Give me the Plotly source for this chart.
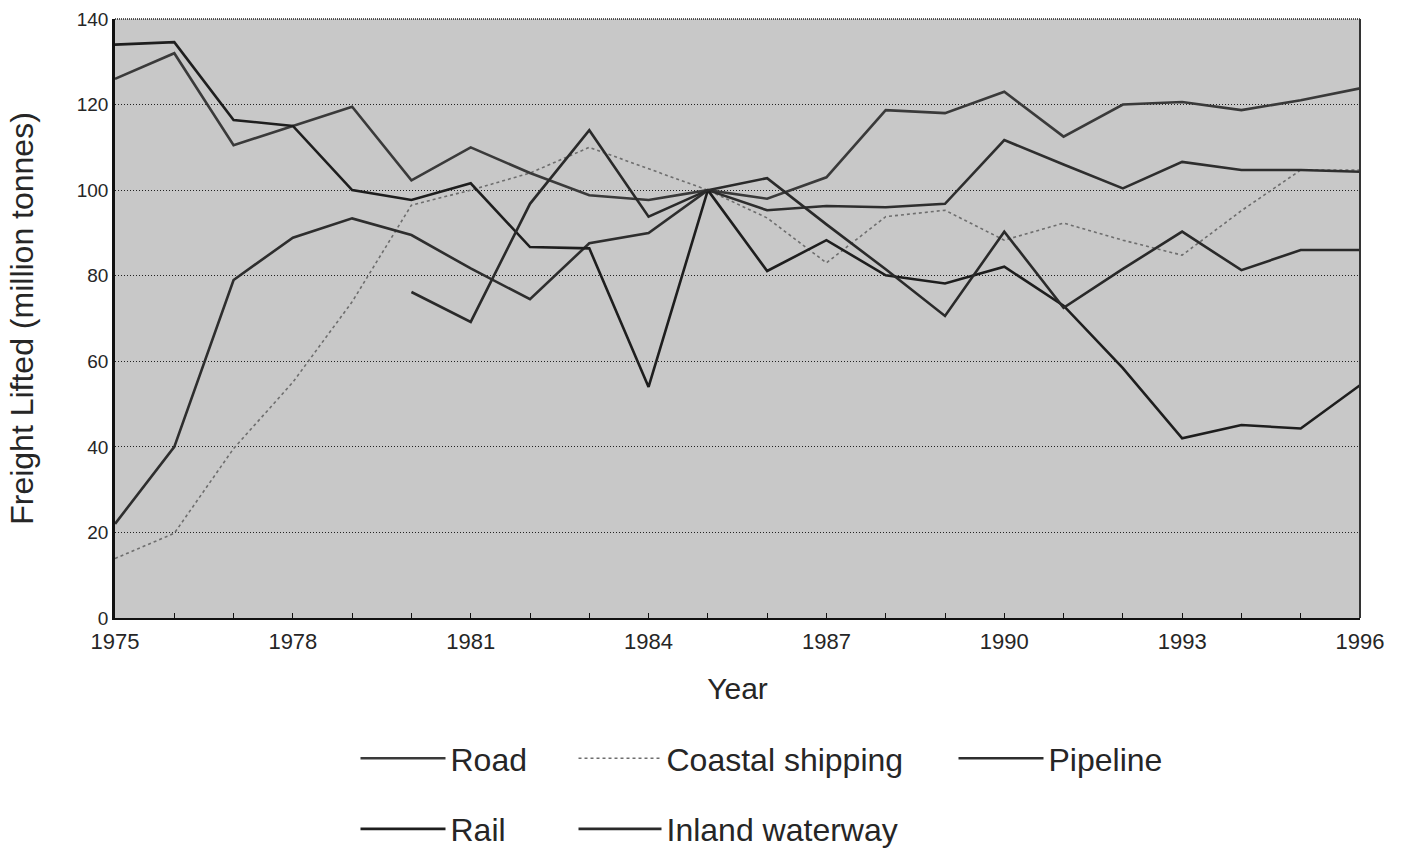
import plotly.graph_objects as go

# ---------------- data ----------------
years = list(range(1975, 1997))

road = [126, 132, 110.5, 115, 119.5, 102.3, 110, 104, 98.8, 97.7, 100,
        98, 103, 118.7, 118, 123, 112.5, 120, 120.6, 118.7, 121, 123.8]
coastal_shipping = [13.9, 19.8, 39.6, 55.1, 73.9, 96.5, 100, 104, 110, 105, 100,
                    93.5, 83, 93.8, 95.3, 88.3, 92.3, 88.3, 84.8, 95.2, 104.7, 104.7]
pipeline = [22, 40, 79, 88.9, 93.4, 89.5, 81.7, 74.5, 87.6, 90, 100,
            95.3, 96.3, 96, 96.8, 111.7, 106, 100.4, 106.6, 104.7, 104.7, 104.3]
rail = [134, 134.6, 116.4, 115, 100, 97.7, 101.6, 86.7, 86.4, 54, 100,
        81.1, 88.3, 80.1, 78.2, 82.1, 73, 58.4, 42, 45.1, 44.3, 54.4]
inland_waterway = [None, None, None, None, None, 76.2, 69.2, 96.8, 114, 93.8, 100,
                   102.8, 92, 81.5, 70.6, 90.3, 72.5, 81.6, 90.3, 81.3, 86, 86]

y_ticks = [0, 20, 40, 60, 80, 100, 120, 140]

FONT = "Liberation Sans, Arial, Helvetica, sans-serif"
TXT = "#262626"

fig = go.Figure()

# (name, values, colour, width, dash, legend id, group, rank)
series = [
    ("Coastal shipping", coastal_shipping, "#6e6e6e", 1.6, "dot", "legend2", "g2", 1),
    ("Road", road, "#3a3a3a", 2.6, "solid", "legend", "g1", 1),
    ("Pipeline", pipeline, "#2e2e2e", 2.6, "solid", "legend3", "g3", 1),
    ("Rail", rail, "#1e1e1e", 2.6, "solid", "legend", "g4", 2),
    ("Inland waterway", inland_waterway, "#2a2a2a", 2.6, "solid", "legend2", "g5", 2),
]
for name, vals, col, w, dash, leg, grp, rank in series:
    fig.add_trace(go.Scatter(
        x=years, y=vals, mode="lines", name=name,
        line=dict(color=col, width=w, dash=dash),
        connectgaps=False, legend=leg, legendgroup=grp, legendrank=rank,
    ))

W, H = 1405, 848
ml, mr, mt, mb = 115, 45, 19, 230
pw, ph = W - ml - mr, H - mt - mb


def px_x(px):
    return (px - ml) / pw


def px_y(py):
    return (H - mb - py) / ph


def leg(x_px, iw):
    return dict(
        orientation="v", xanchor="left", yanchor="top",
        x=px_x(x_px), y=px_y(731),
        font=dict(family=FONT, size=32, color=TXT),
        bgcolor="rgba(0,0,0,0)", borderwidth=0,
        tracegroupgap=26, itemwidth=iw, traceorder="grouped",
    )


fig.update_layout(
    width=W, height=H,
    margin=dict(l=ml, r=mr, t=mt, b=mb, autoexpand=False),
    paper_bgcolor="white",
    plot_bgcolor="#c8c8c8",
    font=dict(family=FONT, color=TXT),
    showlegend=True,
    legend=leg(355.5, 85),
    legend2=leg(573.5, 83),
    legend3=leg(953.5, 85),
    xaxis=dict(
        range=[1975, 1996], tick0=1975, dtick=3,
        ticks="inside", ticklen=5, tickcolor="#111", tickwidth=1,
        minor=dict(dtick=1, ticks="inside", ticklen=5, tickcolor="#111"),
        showgrid=False, zeroline=False,
        showline=True, linecolor="#111", linewidth=2,
        tickfont=dict(family=FONT, size=22, color=TXT),
        ticklabelstandoff=3,
        title=dict(text="Year", font=dict(family=FONT, size=30, color=TXT), standoff=25),
    ),
    yaxis=dict(
        range=[0, 140], tickvals=y_ticks, ticks="",
        showgrid=True, gridcolor="#222", gridwidth=1, griddash="1px,2px",
        zeroline=False,
        showline=True, linecolor="#111", linewidth=2.5,
        tickfont=dict(family=FONT, size=19, color=TXT),
        title=dict(text="Freight Lifted (million tonnes)",
                   font=dict(family=FONT, size=32, color=TXT), standoff=34),
    ),
    shapes=[
        dict(type="line", xref="paper", yref="paper", x0=0, x1=1, y0=1, y1=1,
             line=dict(color="#222", width=1.5, dash="1px,1px")),
        dict(type="line", xref="paper", yref="paper", x0=1, x1=1, y0=0, y1=1,
             line=dict(color="#333", width=2)),
    ],
)

fig.write_html(
    "out.html",
    config={"displayModeBar": False},
    post_script="document.body.style.margin='0';document.body.style.overflow='hidden';",
)
